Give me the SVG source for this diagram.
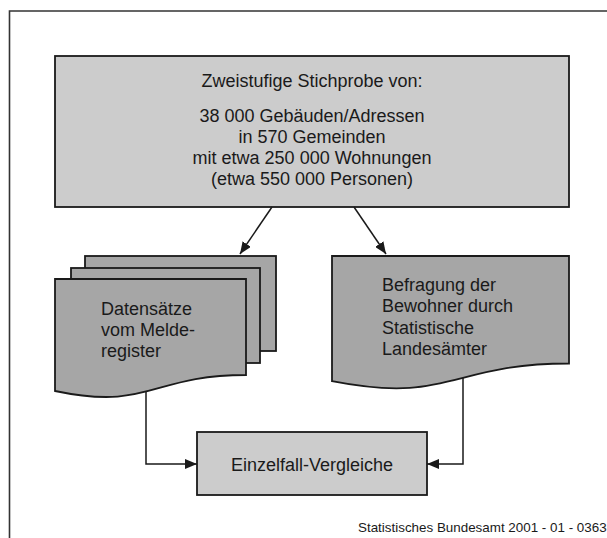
<svg xmlns="http://www.w3.org/2000/svg" width="607" height="538" viewBox="0 0 607 538">
  <style>
    .lbl { font-family: "Liberation Sans", Arial, Helvetica, sans-serif; font-size: 18px; fill: #1a1a1a; }
    .mid { text-anchor: middle; }
    .light { fill: #cccccc; stroke: #1a1a1a; stroke-width: 1.8; }
    .dark { fill: #a6a6a6; stroke: #1a1a1a; stroke-width: 1.8; stroke-linejoin: miter; }
    .conn { fill: none; stroke: #1a1a1a; stroke-width: 1.5; }
    .foot { font-family: "Liberation Sans", Arial, Helvetica, sans-serif; font-size: 13.4px; fill: #1a1a1a; }
  </style>
  <defs>
    <marker id="arrow" viewBox="0 0 12 10" refX="12" refY="5" markerWidth="12" markerHeight="10" markerUnits="userSpaceOnUse" orient="auto">
      <path d="M0,0 L12,5 L0,10 Z" fill="#1a1a1a"/>
    </marker>
  </defs>

  <rect width="607" height="538" fill="#ffffff"/>

  <!-- page frame -->
  <path d="M9.5,538 V11 H607" fill="none" stroke="#333333" stroke-width="1.6"/>

  <!-- sample description -->
  <g id="stichprobe">
    <rect class="light" x="55" y="56" width="514" height="151"/>
    <text class="lbl mid" x="312" y="87">Zweistufige Stichprobe von:</text>
    <text class="lbl mid" x="312" y="122">38 000 Gebäuden/Adressen</text>
    <text class="lbl mid" x="312" y="143">in 570 Gemeinden</text>
    <text class="lbl mid" x="312" y="164">mit etwa 250 000 Wohnungen</text>
    <text class="lbl mid" x="312" y="185">(etwa 550 000 Personen)</text>
  </g>

  <!-- stacked register documents -->
  <g id="melderegister">
    <rect class="dark" x="85" y="256" width="191" height="95"/>
    <rect class="dark" x="71" y="268" width="189" height="95"/>
    <path class="dark" d="M55,279 H246 V375 C150.5,375 150.5,411 55,391 Z"/>
    <text class="lbl" x="101" y="315">Datensätze</text>
    <text class="lbl" x="101" y="336">vom Melde-</text>
    <text class="lbl" x="101" y="357">register</text>
  </g>

  <!-- survey document -->
  <g id="befragung">
    <path class="dark" d="M332,256 H569 V363.5 C450.5,363.5 450.5,404.4 332,381.2 Z"/>
    <text class="lbl" x="382" y="291">Befragung der</text>
    <text class="lbl" x="382" y="312">Bewohner durch</text>
    <text class="lbl" x="382" y="334">Statistische</text>
    <text class="lbl" x="382" y="355">Landesämter</text>
  </g>

  <!-- comparison -->
  <g id="vergleiche">
    <rect class="light" x="197" y="432" width="230" height="63"/>
    <text class="lbl mid" x="312" y="471">Einzelfall-Vergleiche</text>
  </g>

  <g id="connectors">
    <line class="conn" x1="272" y1="207" x2="240" y2="254" marker-end="url(#arrow)"/>
    <line class="conn" x1="354" y1="207" x2="386" y2="254" marker-end="url(#arrow)"/>
    <polyline class="conn" points="146,391 146,464 197,464" marker-end="url(#arrow)"/>
    <polyline class="conn" points="463,378 463,464 427,464" marker-end="url(#arrow)"/>
  </g>

  <text class="foot" x="358" y="532">Statistisches Bundesamt 2001 - 01 - 0363</text>
</svg>
